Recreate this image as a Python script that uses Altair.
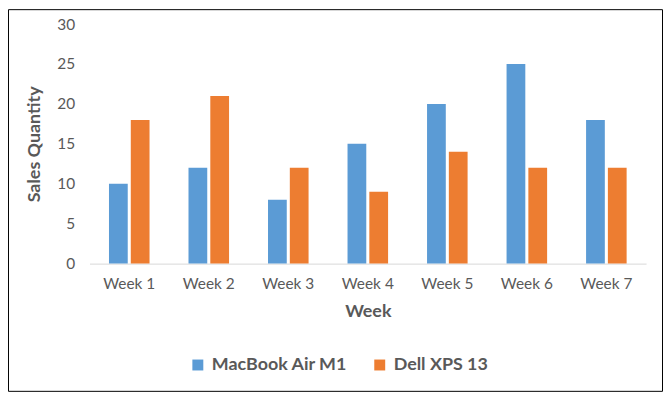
import altair as alt
import pandas as pd

weeks = ["Week 1", "Week 2", "Week 3", "Week 4", "Week 5", "Week 6", "Week 7"]
series = ["MacBook Air M1", "Dell XPS 13"]
macbook = [10, 12, 8, 15, 20, 25, 18]
dell = [18, 21, 12, 9, 14, 12, 12]
colors = ["#5B9BD5", "#ED7D31"]

rows = []
for w, m, d in zip(weeks, macbook, dell):
    rows.append({"Week": w, "Series": series[0], "Sales": m})
    rows.append({"Week": w, "Series": series[1], "Sales": d})
df = pd.DataFrame(rows)

FONT = "Lato"
GRAY = "#595959"

bars = alt.Chart(df).mark_bar().encode(
    x=alt.X("Week:N", sort=weeks,
            scale=alt.Scale(paddingInner=0.49, paddingOuter=0.245),
            axis=alt.Axis(title="Week", labelAngle=0, ticks=False, domainColor="#D9D9D9",
                          labelFontSize=15.5, labelColor=GRAY, labelPadding=13, labelFont=FONT,
                          titleFont=FONT, titleFontSize=18, titleFontWeight="bold",
                          titleColor=GRAY, titlePadding=11)),
    xOffset=alt.XOffset("Series:N", sort=series,
                        scale=alt.Scale(paddingInner=0.14, paddingOuter=0)),
    y=alt.Y("Sales:Q", scale=alt.Scale(domain=[0, 30]),
            axis=alt.Axis(title="Sales Quantity", values=[0, 5, 10, 15, 20, 25, 30],
                          grid=False, domain=False, ticks=False,
                          labelFontSize=15.5, labelColor=GRAY, labelPadding=15, labelFont=FONT,
                          titleFont=FONT, titleFontSize=18, titleFontWeight="bold",
                          titleColor=GRAY, titlePadding=13)),
    color=alt.Color("Series:N", sort=series,
                    scale=alt.Scale(domain=series, range=colors),
                    legend=alt.Legend(title=None, orient="none", direction="horizontal",
                                      legendX=100, legendY=334,
                                      symbolType="square", symbolSize=121,
                                      symbolStrokeWidth=0,
                                      labelFont=FONT, labelFontSize=18, labelFontWeight="bold",
                                      labelColor=GRAY, columnPadding=23, labelOffset=5)),
)

frame = alt.Chart(pd.DataFrame({"f": [0]})).mark_rect(
    fill="transparent", stroke="black", strokeWidth=1
).encode(
    x=alt.value(-81.5), x2=alt.value(576.5), y=alt.value(-14.5), y2=alt.value(369.5)
)

chart = alt.layer(bars, frame).properties(
    width=560, height=241,
    autosize=alt.AutoSizeParams(type="none"),
    padding={"left": 82, "top": 15, "right": 18, "bottom": 131},
).configure(background="white").configure_view(stroke=None)

chart.save("out.html", embed_options={"renderer": "svg", "actions": False})
